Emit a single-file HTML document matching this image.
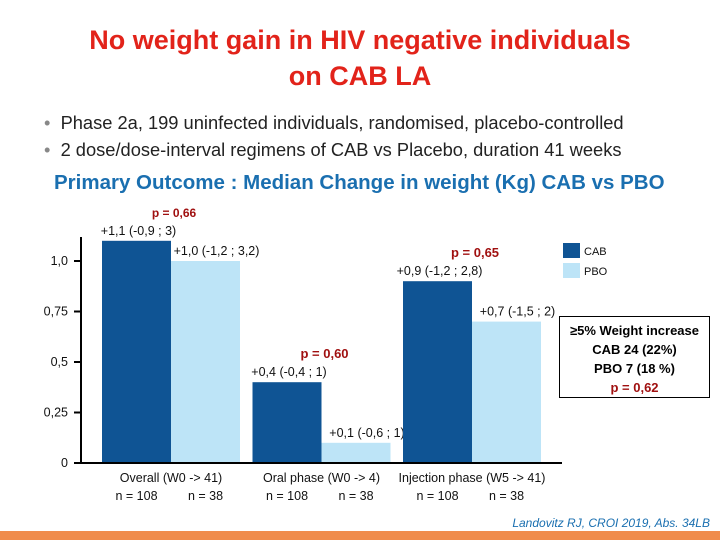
<!DOCTYPE html>
<html><head><meta charset="utf-8"><style>
body{margin:0;width:720px;height:540px;overflow:hidden;background:#fff;font-family:"Liberation Sans",sans-serif;position:relative}
.a{position:absolute;white-space:nowrap}
</style></head><body>
<div class="a" style="left:0;width:720px;top:22px;text-align:center;color:#e2231a;font-size:27px;line-height:36px;font-weight:bold">No weight gain in HIV negative individuals<br>on CAB LA</div>
<div class="a" style="left:44px;top:112px;font-size:18.3px;color:#222"><span style="color:#888">•</span>&nbsp; Phase 2a, 199 uninfected individuals, randomised, placebo-controlled</div>
<div class="a" style="left:44px;top:139px;font-size:18.3px;color:#222"><span style="color:#888">•</span>&nbsp; 2 dose/dose-interval regimens of CAB vs Placebo, duration 41 weeks</div>
<div class="a" style="left:54px;top:171px;font-size:20.5px;font-weight:bold;color:#1a6fb0">Primary Outcome : Median Change in weight (Kg) CAB vs PBO</div>
<svg id="c" width="720" height="540" style="position:absolute;left:0;top:0"></svg>
<div class="a" style="left:559px;top:316px;width:151px;height:82px;border:1px solid #000;text-align:center;font-weight:bold;font-size:13px;line-height:19px;padding-top:4px;box-sizing:border-box">≥5% Weight increase<br>CAB 24 (22%)<br>PBO 7 (18 %)<br><span style="color:#a01010">p = 0,62</span></div>
<div class="a" style="right:10px;top:516px;font-size:12px;font-style:italic;color:#1a6fb0">Landovitz RJ, CROI 2019, Abs. 34LB</div>
<div class="a" style="left:0;top:531px;width:720px;height:9px;background:#f08c4c"></div>
<script>
const categories=["Overall (W0 -> 41)","Oral phase (W0 -> 4)","Injection phase (W5 -> 41)"];
const cabValues=[1.1,0.4,0.9];
const pboValues=[1.0,0.1,0.7];
const cabLabels=["+1,1 (-0,9 ; 3)","+0,4 (-0,4 ; 1)","+0,9 (-1,2 ; 2,8)"];
const pboLabels=["+1,0 (-1,2 ; 3,2)","+0,1 (-0,6 ; 1)","+0,7 (-1,5 ; 2)"];
const pValues=["p = 0,66","p = 0,60","p = 0,65"];
const tickValues=[0,0.25,0.5,0.75,1.0];
const tickLabels=["0","0,25","0,5","0,75","1,0"];
const ns=["n = 108","n = 38"];
const svg=document.getElementById('c');const NS='http://www.w3.org/2000/svg';
function y(v){return 463-v*202}
function x(i){return 102+i*150.5}
const bw=69;
function mk(t,a,n){const e=document.createElementNS(NS,t);for(const k in a)e.setAttribute(k,a[k]);svg.appendChild(e);return e}
function tx(s,X,Y,n,st){const e=mk('text',{x:X,y:Y,'font-size':st.fs||12.5,fill:st.c||'#111','text-anchor':st.a||'middle','font-weight':st.w||'normal','font-family':'Liberation Sans, sans-serif'},n);e.textContent=s;return e}
categories.forEach((c,i)=>{
 const X=x(i);
 mk('rect',{x:X,y:y(cabValues[i]),width:bw,height:y(0)-y(cabValues[i]),fill:'#0f5494'},'bar-cab-'+(i+1));
 mk('rect',{x:X+bw,y:y(pboValues[i]),width:bw,height:y(0)-y(pboValues[i]),fill:'#bde4f7'},'bar-pbo-'+(i+1));
 tx(cabLabels[i],X+bw/2+2,y(cabValues[i])-6,'cab-label-'+(i+1),{});
 tx(pboLabels[i],X+bw*1.5+11,y(pboValues[i])-6,'pbo-label-'+(i+1),{});
 tx(pValues[i],X+bw+3,y(Math.max(cabValues[i],pboValues[i]))-24,'p-value-'+(i+1),{c:'#a01010',w:'bold',fs:i==0?12:13});
 tx(c,X+bw,482,'category-label-'+(i+1),{});
 tx(ns[0],X+bw/2,500,'n-cab-'+(i+1),{});
 tx(ns[1],X+bw*1.5,500,'n-pbo-'+(i+1),{});
});
mk('line',{x1:81,y1:237,x2:81,y2:y(0)+1,stroke:'#000','stroke-width':2},'y-axis');
mk('line',{x1:81,y1:y(0),x2:562,y2:y(0),stroke:'#000','stroke-width':2},'x-axis');
tickValues.forEach((v,i)=>{mk('line',{x1:74,y1:y(v),x2:81,y2:y(v),stroke:'#000','stroke-width':2},'y-tick');
 tx(tickLabels[i],68,y(v)+4,'y-tick-label',{a:'end'});});
mk('rect',{x:563,y:243,width:17,height:15,fill:'#0f5494'},'legend-cab-swatch');
tx('CAB',584,255,'legend-cab-label',{a:'start',fs:11});
mk('rect',{x:563,y:263,width:17,height:15,fill:'#bde4f7'},'legend-pbo-swatch');
tx('PBO',584,275,'legend-pbo-label',{a:'start',fs:11});
</script>
</body></html>
